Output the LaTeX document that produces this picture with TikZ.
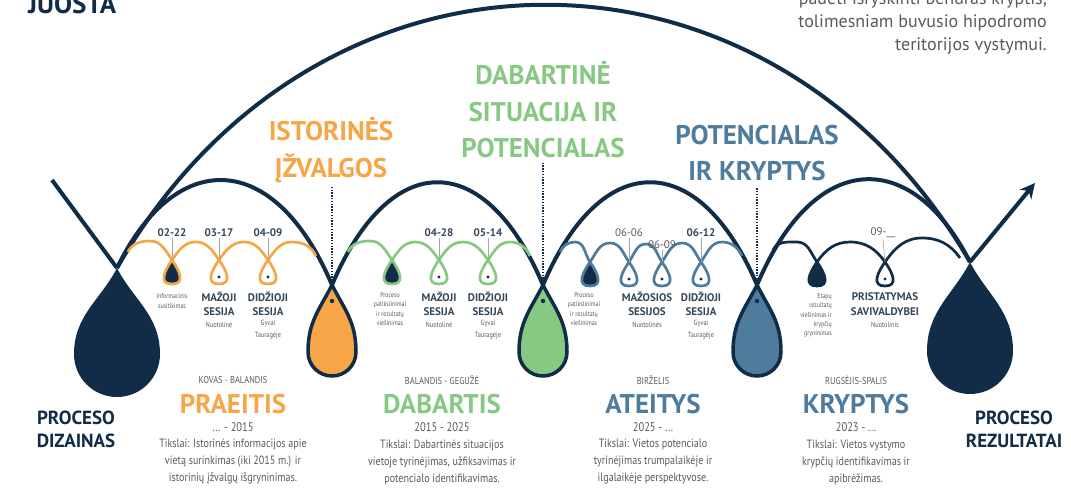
\documentclass[tikz,border=0pt]{standalone}
\usepackage{fontspec}
\setmainfont{PT Sans}
\newfontfamily\nar[FakeStretch=0.84]{PT Sans}
\usetikzlibrary{arrows.meta,calc}
\definecolor{navy}{HTML}{102C46}
\definecolor{org}{HTML}{F6A647}
\definecolor{grn}{HTML}{87C983}
\definecolor{blu}{HTML}{4F7B9D}
\definecolor{gtxt}{HTML}{5A5A5A}
\definecolor{dtxt}{HTML}{34475A}
\newcommand\teardrop[5]{\begin{scope}[shift={(#2)}]\path[#1] (0,0) .. controls (-0.45*#5,-0.88*#5) and (-#3,-#4+0.45*#4) .. (-#3,-#4) arc[start angle=180,end angle=360,radius=#3] .. controls (#3,-#4+0.45*#4) and (0.45*#5,-0.88*#5) .. (0,0) -- cycle;\end{scope}}
\tikzset{
  mainline/.style={draw=navy, line width=4pt},
  wave/.style={line width=2.7pt},
  lp/.style={insert path={to[out=-55,in=0,looseness=1.45] ++(0,-24) to[out=180,in=235,looseness=1.45] ++(0,24)}},
  dotln/.style={draw=navy, line width=1.5pt, dash pattern=on 1.4pt off 1.4pt},
  conn/.style={draw=gray!70, line width=0.6pt},
  datelbl/.style={font=\fontsize{11}{12}\selectfont\bfseries, text=dtxt, inner sep=1pt},
  datelt/.style={font=\fontsize{11}{12}\selectfont, text=gtxt, inner sep=1pt},
  smalllbl/.style={font=\nar\fontsize{7}{9.3}\selectfont, text=gtxt, align=center, inner sep=0pt},
  sess/.style={font=\fontsize{11}{14.5}\selectfont\bfseries, text=dtxt, align=center, inner sep=0pt},
  placelbl/.style={font=\nar\fontsize{7.5}{12}\selectfont, text=gtxt, align=center, inner sep=0pt},
  hd/.style={font=\fontsize{27}{36.5}\selectfont\bfseries, align=center, inner sep=1pt},
  endlbl/.style={font=\fontsize{19}{23}\selectfont\bfseries, text=navy, align=center, inner sep=0pt},
  monlbl/.style={font=\nar\fontsize{10}{12}\selectfont, text=gtxt, inner sep=0pt},
  bigttl/.style={font=\fontsize{27}{30}\selectfont\bfseries, inner sep=0pt},
  yrlbl/.style={font=\nar\fontsize{12.5}{14}\selectfont, text=gtxt, inner sep=0pt},
  goal/.style={font=\nar\fontsize{12}{17}\selectfont, text=gtxt, align=center, inner sep=0pt},
  intro/.style={font=\fontsize{18}{23}\selectfont, text=gtxt, anchor=base east, inner sep=0pt}
}
\begin{document}
\begin{tikzpicture}[x=1pt,y=1pt]
\useasboundingbox (0,0) rectangle (1071,-493);
\clip (0,0) rectangle (1071,-493);
% key points
\coordinate (ltip) at (117,-268);
\coordinate (ot) at (332,-285);
\coordinate (gt) at (543,-285);
\coordinate (bt) at (757,-285);
\coordinate (rtip) at (970,-262);
\coordinate (lin) at (52,-180);
\coordinate (aout) at (1035,-183);
% loop crossing points
\coordinate (o1) at (172,-260); \coordinate (o2) at (219,-260); \coordinate (o3) at (268,-260);
\coordinate (g1) at (392,-260); \coordinate (g2) at (439,-260); \coordinate (g3) at (488,-260);
\coordinate (b1) at (590,-262); \coordinate (b2) at (629,-262); \coordinate (b3) at (662,-262); \coordinate (b4) at (701,-262);
\coordinate (n1) at (817,-262); \coordinate (n2) at (885,-262);

% big drops
\teardrop{fill=navy}{ltip}{43}{86}{36}
\teardrop{fill=navy}{rtip}{43}{89}{36}
% coloured drops
\teardrop{fill=org, draw=navy, line width=3.5pt}{ot}{24}{67}{28}
\teardrop{fill=grn, draw=navy, line width=3.5pt}{gt}{24}{67}{28}
\teardrop{fill=blu, draw=navy, line width=3.5pt}{bt}{24}{67}{28}
\fill[navy] ($(ot)+(0,-16)$) circle (2.2);
\fill[navy] ($(gt)+(0,-16)$) circle (2.2);
\fill[navy] ($(bt)+(0,-16)$) circle (2.2);

% main lines
\draw[mainline] (lin) -- (ltip);
\draw[mainline] (ltip) .. controls (317,82) and (770,82) .. (rtip);
\draw[mainline] (ltip) .. controls (175,-148) and (274,-148) .. (ot);
\draw[mainline] (ot) .. controls (390,-148) and (485,-148) .. (gt);
\draw[mainline] (gt) .. controls (601,-148) and (699,-148) .. (bt);
\draw[mainline] (bt) .. controls (815,-148) and (912,-148) .. (rtip);
\draw[mainline, -{Stealth[length=15pt,width=15pt]}] (rtip) -- (aout);

% filled small loops
\fill[navy] (o1) [lp];
\fill[navy] (g1) [lp];
\fill[navy] (b1) [lp];
\fill[navy] (n1) [lp];

% waves
\draw[wave, draw=org] (128,-252) to[out=65,in=180] (150,-241) to[out=0,in=125] (o1) [lp]
  to[out=55,in=180] (196,-242) to[out=0,in=125] (o2) [lp]
  to[out=55,in=180] (244,-242) to[out=0,in=125] (o3) [lp]
  to[out=55,in=180] (292,-242) to[out=0,in=115] (316,-256);
\draw[wave, draw=grn] (348,-252) to[out=65,in=180] (370,-241) to[out=0,in=125] (g1) [lp]
  to[out=55,in=180] (415,-242) to[out=0,in=125] (g2) [lp]
  to[out=55,in=180] (463,-242) to[out=0,in=125] (g3) [lp]
  to[out=55,in=180] (510,-242) to[out=0,in=115] (530,-256);
\draw[wave, draw=blu] (560,-252) to[out=65,in=180] (575,-242) to[out=0,in=125] (b1) [lp]
  to[out=55,in=180] (610,-243) to[out=0,in=125] (b2) [lp]
  to[out=55,in=180] (646,-244) to[out=0,in=125] (b3) [lp]
  to[out=55,in=180] (682,-243) to[out=0,in=125] (b4) [lp]
  to[out=55,in=180] (722,-242) to[out=0,in=115] (742,-256);
\draw[wave, draw=navy] (773,-250) to[out=65,in=180] (797,-242) to[out=0,in=125] (n1) [lp]
  to[out=55,in=180] (850,-242) to[out=0,in=125] (n2) [lp]
  to[out=55,in=180] (922,-238) to[out=0,in=125] (960,-258);

% dots in loops
\foreach \p in {o2,o3,g2,g3,b2,b3,b4,n2} \fill[navy] ($(\p)+(0,-17)$) circle (1.7);

% dates
\node[datelbl] (d1) at (172,-233) {02-22};
\node[datelbl] (d2) at (219,-233) {03-17};
\node[datelbl] (d3) at (268,-233) {04-09};
\node[datelbl] (d4) at (439,-233) {04-28};
\node[datelbl] (d5) at (488,-233) {05-14};
\node[datelt] (d6) at (629,-233) {06-06};
\node[datelt] (d7) at (662,-245) {06-09};
\node[datelbl] (d8) at (701,-233) {06-12};
\node[datelt] (d9) at (883,-233) {09-\_\_};
\foreach \a/\b in {d1/o1,d2/o2,d3/o3,d4/g2,d5/g3,d6/b2,d7/b3,d8/b4,d9/n2} \draw[conn] (\a.south) -- (\b);

% loop labels
\node[smalllbl] (l1) at (172,-301) {Informacinis\\susitikimas};
\node[sess] (l2) at (219,-304) {MAŽOJI\\SESIJA};
\node[placelbl] (l2p) at (219,-325) {Nuotolinė};
\node[sess] (l3) at (268,-304) {DIDŽIOJI\\SESIJA};
\node[placelbl] (l3p) at (268,-330) {Gyvai\\Tauragėje};
\node[smalllbl] (l4) at (390,-309) {Proceso\\patikslinimai\\ir rezultatų\\viešinimas};
\node[sess] (l5) at (439,-304) {MAŽOJI\\SESIJA};
\node[placelbl] (l5p) at (439,-325) {Nuotolinė};
\node[sess] (l6) at (488,-304) {DIDŽIOJI\\SESIJA};
\node[placelbl] (l6p) at (488,-330) {Gyvai\\Tauragėje};
\node[smalllbl] (l7) at (584,-309) {Proceso\\patikslinimai\\ir rezultatų\\viešinimas};
\node[sess] (l8) at (647,-304) {MAŽOSIOS\\SESIJOS};
\node[placelbl] (l8p) at (647,-325) {Nuotolinės};
\node[sess] (l9) at (701,-304) {DIDŽIOJI\\SESIJA};
\node[placelbl] (l9p) at (701,-330) {Gyvai\\Tauragėje};
\node[smalllbl, align=right, anchor=east] (l10) at (832,-315.5) {Etapų\\rezultatų\\viešinimas ir\\krypčių\\gryninimas};
\node[sess] (l11) at (885,-304) {PRISTATYMAS\\SAVIVALDYBEI};
\node[placelbl] (l11p) at (885,-325) {Nuotolinis};

% headings
\node[hd, text=org] (h1) at (331,-150) {ISTORINĖS\\ĮŽVALGOS};
\node[hd, text=grn] (h2) at (543,-110) {DABARTINĖ\\SITUACIJA IR\\POTENCIALAS};
\node[hd, text=blu] (h3) at (757,-153) {POTENCIALAS\\IR KRYPTYS};
\draw[dotln, shorten <=3pt, shorten >=4pt] (h1.south -| ot) -- (ot);
\draw[dotln, shorten <=3pt, shorten >=4pt] (h2.south -| gt) -- (gt);
\draw[dotln, shorten <=6pt, shorten >=4pt] (h3.south -| bt) -- (bt);

% top texts
\node[font=\fontsize{27}{30}\selectfont\bfseries, text=navy, anchor=base west, inner sep=0pt] (juosta) at (28,-13) {JUOSTA};
\node[intro] (i1) at (1047,-4) {padėti išryškinti bendras kryptis,};
\node[intro] (i2) at (1047,-27) {tolimesniam buvusio hipodromo};
\node[intro] (i3) at (1047,-50) {teritorijos vystymui.};

% end labels
\node[endlbl] (pd) at (76,-429.5) {PROCESO\\DIZAINAS};
\node[endlbl] (pr) at (1014,-429.5) {PROCESO\\REZULTATAI};

% columns
\node[monlbl] (m1) at (233,-380) {KOVAS - BALANDIS};
\node[bigttl, text=org] (t1) at (233,-404) {PRAEITIS};
\node[yrlbl] (y1) at (233,-427) {... - 2015};
\node[goal] (gl1) at (233,-462) {Tikslai: Istorinės informacijos apie\\vietą surinkimas (iki 2015 m.) ir\\istorinių įžvalgų išgryninimas.};

\node[monlbl] (m2) at (442,-380) {BALANDIS - GEGUŽĖ};
\node[bigttl, text=grn] (t2) at (442,-404) {DABARTIS};
\node[yrlbl] (y2) at (442,-427) {2015 - 2025};
\node[goal] (gl2) at (442,-462) {Tikslai: Dabartinės situacijos\\vietoje tyrinėjimas, užfiksavimas ir\\potencialo identifikavimas.};

\node[monlbl] (m3) at (653,-380) {BIRŽELIS};
\node[bigttl, text=blu] (t3) at (653,-404) {ATEITYS};
\node[yrlbl] (y3) at (653,-427) {2025 - ...};
\node[goal] (gl3) at (653,-462) {Tikslai: Vietos potencialo\\tyrinėjimas trumpalaikėje ir\\ilgalaikėje perspektyvose.};

\node[monlbl] (m4) at (856,-380) {RUGSĖJIS-SPALIS};
\node[bigttl, text=blu] (t4) at (856,-404) {KRYPTYS};
\node[yrlbl] (y4) at (856,-427) {2023 - ...};
\node[goal] (gl4) at (856,-462) {Tikslai: Vietos vystymo\\krypčių identifikavimas ir\\apibrėžimas.};
\end{tikzpicture}
\end{document}
